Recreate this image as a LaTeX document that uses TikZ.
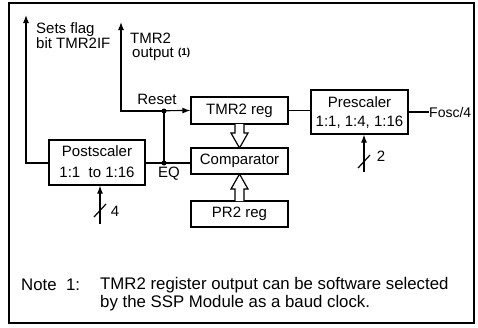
\documentclass[tikz,border=0pt]{standalone}
\usepackage{fontspec}
\setmainfont{Liberation Sans}
\usetikzlibrary{arrows.meta}
\begin{document}
\begin{tikzpicture}[x=1pt,y=-1pt,
  font=\fontsize{15}{17}\selectfont,
  box/.style={draw,line width=1.2pt,minimum width=97pt,inner sep=0pt,align=center},
  wire/.style={line width=1.2pt},
  arr/.style={wire,-{Latex[length=8pt,width=6pt]}},
  lbl/.style={inner sep=0pt,align=left},
  notef/.style={lbl,font=\fontsize{16.8}{18}\selectfont},
  dotn/.style={circle,fill,inner sep=0pt,minimum size=5pt},
  hollow/.style={draw,line width=1.2pt,fill=white}]
\useasboundingbox (0,0) rectangle (478,327);
\draw[line width=2pt] (9,3) rectangle (474,323);

% boxes
\node[box,minimum height=27pt] (tmr) at (239.5,110.5) {TMR2 reg};
\node[box,minimum height=26pt] (cmp) at (239.5,161) {Comparator};
\node[box,minimum height=26pt] (pr2) at (239.5,214) {PR2 reg};
\node[box,minimum height=44pt] (pre) at (359.5,112) {};
\node[lbl] (pret) at (359.5,102) {Prescaler};
\node[lbl] (prer) at (359.5,122) {1:1, 1:4, 1:16};
\node[box,minimum height=45pt,minimum width=96pt] (post) at (97,162.5) {};
\node[lbl] (postt) at (97,151) {Postscaler};
\node[lbl] (postr) at (97,172) {1:1\ \ to 1:16};

% dots
\node[dotn] (dr) at (164,111) {};
\node[dotn] (de) at (164,163) {};

% coordinates
\coordinate (flagtop) at (26,15);
\coordinate (flagc) at (26,163);
\coordinate (outtop) at (121,22);
\coordinate (outc) at (121,111);
\coordinate (fosc) at (429,112);
\coordinate (pin) at (364,172);
\coordinate (psin) at (100,224);

% wires
\draw[arr] (post.west |- flagc) -- (flagc) -- (flagtop);
\draw[arr] (dr.center) -- (outc) -- (outtop);
\draw[arr] (outc) -- (tmr.west);
\draw[wire] (post.east |- de) -- (de.center) -- (cmp.west |- de);
\draw[wire] (de.center) -- (dr.center);
\draw[wire] (tmr.east) -- (pre.west |- tmr.east);
\draw[wire] (pre.east |- fosc) -- (fosc);
\node[lbl,anchor=west,font=\fontsize{14}{16}\selectfont] (fosct) at (fosc) {Fosc/4};
\draw[arr] (pin) -- (pre.south -| pin);
\draw[wire] (358,168) -- (370,155);
\node[lbl] (n2) at (381,156) {2};
\draw[arr] (psin) -- (post.south -| psin);
\draw[wire] (94,217) -- (106,204);
\node[lbl] (n4) at (115,211) {4};

% hollow arrows
\draw[hollow] (235,124) -- (235,133) -- (231,133) -- (239.5,148) -- (248,133) -- (244,133) -- (244,124);
\draw[hollow] (235,201) -- (235,189) -- (231,189) -- (239.5,174) -- (248,189) -- (244,189) -- (244,201);

% labels
\node[lbl,anchor=north west,font=\fontsize{15}{15.5}\selectfont] (sf) at (36,22) {Sets flag\\bit TMR2IF};
\node[lbl,anchor=north west,font=\fontsize{15}{14}\selectfont] (to) at (130,33) {TMR2\\\hspace{2pt}output \raisebox{2pt}{\fontsize{10}{11}\selectfont\bfseries (1)}};
\node[lbl] (rst) at (157,99) {Reset};
\node[lbl] (eq) at (169,174) {EQ};

% note
\node[notef,anchor=west] (note1) at (21,285) {Note\ \ 1:};
\node[notef,anchor=west] (nt1) at (100,285) {TMR2 register output can be software selected};
\node[notef,anchor=west] (nt2) at (100,303) {by the SSP Module as a baud clock.};
\end{tikzpicture}
\end{document}
